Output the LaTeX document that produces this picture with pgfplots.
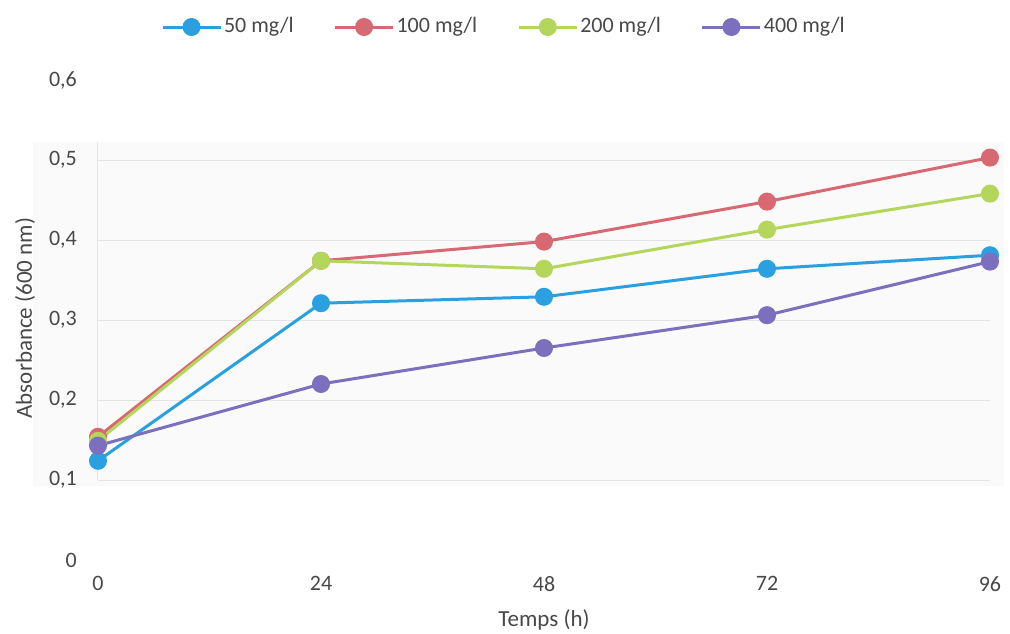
\documentclass[border=0pt]{standalone}
\usepackage{fontspec}
\setmainfont{Carlito}
\usepackage{pgfplots}
\pgfplotsset{compat=1.18}
\definecolor{cblue}{RGB}{42,160,224}
\definecolor{cred}{RGB}{216,104,114}
\definecolor{cgreen}{RGB}{180,214,90}
\definecolor{cpurple}{RGB}{124,112,190}
\definecolor{ctext}{RGB}{72,72,72}
\begin{document}
\fontsize{22pt}{26pt}\selectfont
\begin{tikzpicture}
\begin{axis}[
  name=ax,
  set layers,
  at={(0,0)}, anchor=south west,
  scale only axis,
  width=892pt, height=480pt,
  xmin=0, xmax=96, ymin=0, ymax=0.6,
  axis line style={draw=none},
  xtick={0,24,48,72,96},
  ytick={0.1,0.2,0.3,0.4,0.5},
  extra y ticks={0,0.6},
  extra y tick style={grid=none},
  ymajorgrids,
  grid style={black!11, line width=1pt},
  major tick length=0pt,
  tick label style={font=\fontsize{22pt}{26pt}\selectfont, text=ctext},
  /pgf/number format/assume math mode=true,
  /pgf/number format/use comma,
  /pgf/number format/fixed,
  yticklabel style={anchor=east, inner sep=0pt, xshift=-21pt},
  xticklabel style={anchor=north, inner sep=0pt, yshift=-16pt},
  xlabel={Temps (h)},
  ylabel={Absorbance (600 nm)},
  label style={font=\fontsize{23pt}{27pt}\selectfont, text=ctext},
  xlabel style={at={(axis description cs:0.5,0)}, anchor=center, yshift=-60pt},
  ylabel style={at={(axis description cs:0,0.504)}, anchor=center, yshift=73pt},
  legend columns=4,
  legend style={draw=none, fill=none, at={(axis description cs:0.455,1)}, anchor=center, yshift=53pt,
    font=\fontsize{22pt}{26pt}\selectfont, text=ctext,
    /tikz/every even column/.append style={column sep=38pt},
    nodes={inner sep=2pt}},
  legend image code/.code={\draw[mark repeat=2,mark phase=2] plot coordinates {(0pt,0pt) (29pt,0pt) (58pt,0pt)};},
  every axis plot/.append style={line width=3pt, mark=*, mark size=7.5pt},
]
\begin{pgfonlayer}{axis background}
\fill[black!2] (axis cs:-7,0.093) rectangle (axis cs:97.5,0.522);
\end{pgfonlayer}
\begin{pgfonlayer}{axis grid}
\draw[black!11, line width=1pt] (axis cs:0,0.1) -- (axis cs:0,0.522);
\end{pgfonlayer}
\addplot[color=cblue, mark options={fill=cblue}] coordinates {(0,0.124) (24,0.321) (48,0.329) (72,0.364) (96,0.381)};
\addlegendentry{50 mg/l}
\addplot[color=cred, mark options={fill=cred}] coordinates {(0,0.154) (24,0.374) (48,0.398) (72,0.448) (96,0.503)};
\addlegendentry{100 mg/l}
\addplot[color=cgreen, mark options={fill=cgreen}] coordinates {(0,0.149) (24,0.374) (48,0.364) (72,0.413) (96,0.458)};
\addlegendentry{200 mg/l}
\addplot[color=cpurple, mark options={fill=cpurple}] coordinates {(0,0.143) (24,0.220) (48,0.265) (72,0.306) (96,0.373)};
\addlegendentry{400 mg/l}
\end{axis}
\pgfresetboundingbox
\path ([shift={(-98pt,-73pt)}]ax.south west) rectangle ([shift={(912pt,560pt)}]ax.south west);
\end{tikzpicture}
\end{document}
